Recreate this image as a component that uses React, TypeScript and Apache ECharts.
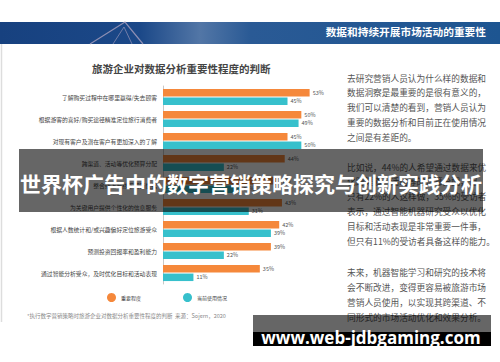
import React, { useEffect, useRef } from "react";
import * as echarts from "echarts";

const categories = [
  "了解购买过程中在哪里赢得/失去顾客",
  "根据游客的喜好/购买途径精准定位旅行消费者",
  "对现有客户及潜在客户有更加深入的了解",
  "跨渠道、活动等优化预算分配",
  "整合线上与线下营销数据",
  "为关键用户提供个性化的信息服务",
  "根据人数统计和/或兴趣偏好定位旅游受众",
  "预测投资回报率和盈利能力",
  "通过智能分析受众，及时优化目标和活动表现",
];
const importance = [53, 50, 45, 44, 41, 43, 42, 39, 35];
const currentUse = [45, 49, 50, 22, 28, 31, 39, 22, 11];
const seriesNames = ["重要程度", "当前使用情况"];

const para1 = [
  "去研究营销人员认为什么样的数据和",
  "数据洞察是最重要的是很有意义的，",
  "我们可以清楚的看到，营销人员认为",
  "重要的数据分析和目前正在使用情况",
  "之间是有差距的。",
];
const para2 = [
  "比如说，44%的人希望通过数据来优",
  "化跨渠道、活动等的预算分配，但",
  "只有22%的人这样做，35%的受访者",
  "表示，通过智能机器研究受众以优化",
  "目标和活动表现是非常重要一件事，",
  "但只有11%的受访者具备这样的能力。",
];
const para3 = [
  "未来，机器智能学习和研究的技术将",
  "会不断改进，变得更容易被旅游市场",
  "营销人员使用，以实现其跨渠道、不",
  "同形式的市场活动优化和效果分析。",
];

const FONT = '"Noto Sans CJK SC", "Noto Sans", sans-serif';
const ORANGE = "#F5883B";
const CYAN = "#37C0CC";

export default function App() {
  const ref = useRef<HTMLDivElement>(null);
  useEffect(() => {
    if (!ref.current) return;
    const chart = echarts.init(ref.current, null, { renderer: "svg" });
    const textLines = (lines: string[], y0: number, step: number) =>
      lines.map((t, i) => ({
        type: "text",
        x: 347,
        y: y0 + i * step,
        z: 10,
        style: {
          text: t,
          fill: "#555",
          fontSize: 8.7,
          fontFamily: FONT,
          verticalAlign: "middle",
        },
      }));
    const labelCfg = {
      show: true,
      position: "right",
      distance: 3,
      formatter: "{c}%",
      fontSize: 5.5,
      color: "#555",
      fontFamily: FONT,
    };
    chart.setOption({
      animation: false,
      backgroundColor: "#ffffff",
      textStyle: { fontFamily: FONT },
      title: {
        text: "旅游企业对数据分析重要性程度的判断",
        left: 87,
        top: 58,
        textStyle: { fontSize: 10.5, fontWeight: "bold", color: "#444", fontFamily: FONT },
      },
      legend: {
        left: 102,
        top: 288,
        itemWidth: 9,
        itemHeight: 9,
        itemGap: 42,
        icon: "circle",
        textStyle: { fontSize: 5, color: "#444", fontFamily: FONT },
        data: seriesNames,
      },
      grid: { left: 163, top: 86, width: 166, height: 198 },
      xAxis: {
        type: "value",
        min: 0,
        max: 60,
        show: false,
      },
      yAxis: {
        type: "category",
        inverse: true,
        data: categories,
        axisTick: { show: false },
        axisLine: { lineStyle: { color: "#c8c8c8", width: 1 } },
        axisLabel: { fontSize: 5.8, color: "#444", margin: 6, fontFamily: FONT },
      },
      series: [
        {
          name: seriesNames[0],
          type: "bar",
          data: importance,
          barWidth: 7.5,
          barGap: "15%",
          itemStyle: { color: ORANGE },
          label: labelCfg,
        },
        {
          name: seriesNames[1],
          type: "bar",
          data: currentUse,
          barWidth: 7.5,
          itemStyle: { color: CYAN },
          label: labelCfg,
        },
      ],
      graphic: [
        {
          type: "rect",
          z: 5,
          shape: { x: 0, y: 22, width: 500, height: 22 },
          style: {
            fill: {
              type: "linear",
              x: 0,
              y: 0,
              x2: 1,
              y2: 0,
              colorStops: [
                { offset: 0, color: "#17417f" },
                { offset: 0.28, color: "#1b4888" },
                { offset: 0.4, color: "#5276a6" },
                { offset: 0.5, color: "#2a5a95" },
                { offset: 1, color: "#1d5591" },
              ],
            },
          },
        },
        {
          type: "polyline",
          z: 6,
          shape: { points: [[90, 44], [125, 22], [143, 44]] },
          style: { stroke: "rgba(170,160,190,0.8)", lineWidth: 1.2, fill: "none" },
        },
        {
          type: "polyline",
          z: 6,
          shape: { points: [[113, 44], [124, 27], [132, 44]] },
          style: { stroke: "rgba(170,160,190,0.6)", lineWidth: 1, fill: "none" },
        },
        {
          type: "text",
          z: 7,
          x: 486,
          y: 31.7,
          style: {
            text: "数据和持续开展市场活动的重要性",
            fill: "#ffffff",
            fontSize: 10.7,
            fontWeight: "bold",
            fontFamily: FONT,
            align: "right",
            verticalAlign: "middle",
          },
        },
        {
          type: "line",
          z: 5,
          shape: { x1: 1.5, y1: 44, x2: 1.5, y2: 322 },
          style: { stroke: "#dddddd", lineWidth: 1.5 },
        },
        ...textLines(para1, 78, 14.8),
        ...textLines(para2, 167, 14.8),
        ...textLines(para3, 272, 15),
        {
          type: "text",
          z: 10,
          x: 27,
          y: 315.5,
          style: {
            text: "*执行数字营销策略时旅游企业对数据分析重要性程度的判断  来源：Sojern，2020",
            fill: "#888",
            fontSize: 5.5,
            fontFamily: FONT,
            verticalAlign: "middle",
          },
        },
        {
          type: "rect",
          z: 100,
          shape: { x: 19, y: 149, width: 464, height: 63 },
          style: { fill: "rgba(0,0,0,0.6)" },
        },
        {
          type: "text",
          z: 101,
          x: 251,
          y: 183,
          style: {
            text: "世界杯广告中的数字营销策略探究与创新实践分析",
            fill: "#ffffff",
            fontSize: 21,
            fontWeight: "bold",
            fontFamily: FONT,
            align: "center",
            verticalAlign: "middle",
          },
        },
        {
          type: "rect",
          z: 100,
          shape: { x: 253, y: 315, width: 238, height: 17 },
          style: { fill: "rgba(0,0,0,0.6)" },
        },
        {
          type: "rect",
          z: 100,
          shape: { x: 253, y: 332, width: 238, height: 14 },
          style: { fill: "#000000" },
        },
        {
          type: "text",
          z: 101,
          x: 371,
          y: 337,
          style: {
            text: "www.web-jdbgaming.com",
            fill: "#ffffff",
            fontSize: 17,
            fontWeight: "bold",
            fontFamily: '"Open Sans", "Noto Sans", sans-serif',
            align: "center",
            verticalAlign: "middle",
          },
        },
      ],
    });
    return () => chart.dispose();
  }, []);
  return (
    <div
      ref={ref}
      style={{ position: "fixed", left: 0, top: 0, width: 500, height: 362 }}
    />
  );
}
